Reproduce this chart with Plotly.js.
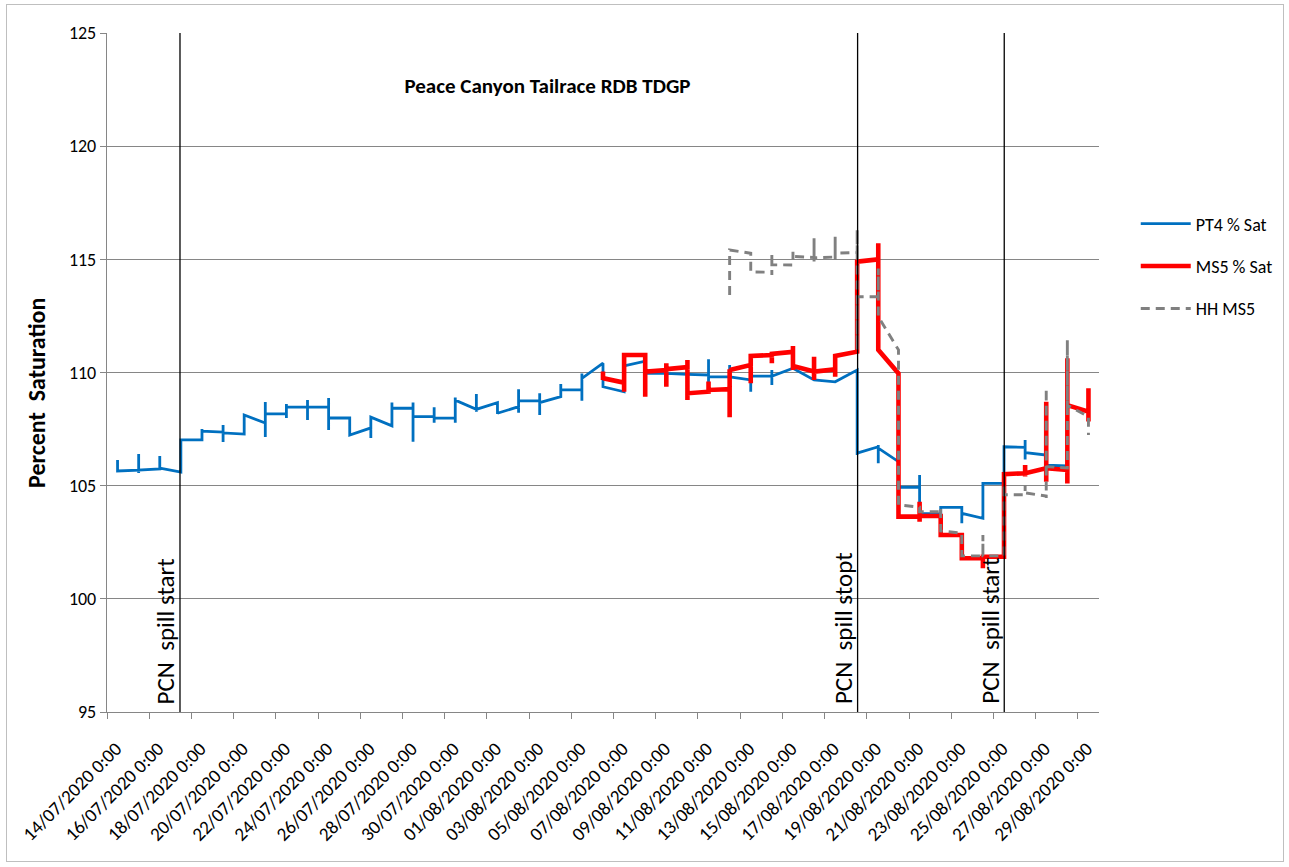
<!DOCTYPE html>
<html>
<head>
<meta charset="utf-8">
<script src="https://cdn.plot.ly/plotly-3.0.1.min.js"></script>
<style>
  html, body { margin: 0; padding: 0; background: #ffffff; }
  #frame { position: absolute; left: 6px; top: 4px; width: 1278px; height: 858px; border: 1px solid #bfbfbf; box-sizing: border-box; }
  #chart { position: absolute; left: 0; top: 0; width: 1289px; height: 867px; }
</style>
</head>
<body>
<div id="frame"></div>
<div id="chart"></div>
<script>
// Daily readings (noon) for each probe. Each entry of a *Steps list holds the
// values logged at that timestamp, in order, so a day can jump or spike
// before the line carries on to the next day.
const pt4Times = [
  '2020-07-14 12:00','2020-07-15 12:00','2020-07-16 12:00','2020-07-17 12:00','2020-07-18 12:00',
  '2020-07-19 12:00','2020-07-20 12:00','2020-07-21 12:00','2020-07-22 12:00','2020-07-23 12:00',
  '2020-07-24 12:00','2020-07-25 12:00','2020-07-26 12:00','2020-07-27 12:00','2020-07-28 12:00',
  '2020-07-29 12:00','2020-07-30 12:00','2020-07-31 12:00','2020-08-01 12:00','2020-08-02 12:00',
  '2020-08-03 12:00','2020-08-04 12:00','2020-08-05 12:00','2020-08-06 12:00','2020-08-07 12:00',
  '2020-08-08 12:00','2020-08-09 12:00','2020-08-10 12:00','2020-08-11 12:00','2020-08-12 12:00',
  '2020-08-13 12:00','2020-08-14 12:00','2020-08-15 12:00','2020-08-16 12:00','2020-08-17 12:00',
  '2020-08-18 13:00','2020-08-19 13:00','2020-08-20 12:00','2020-08-21 12:00','2020-08-22 12:00',
  '2020-08-23 12:00','2020-08-24 12:00','2020-08-25 12:00','2020-08-26 12:00','2020-08-27 12:00',
  '2020-08-28 12:00'
];
const pt4Steps = [
  [106.13, 105.65], [105.69, 106.40, 105.56, 105.69], [105.74, 106.31, 105.78], [105.60, 107.02],
  [107.02, 107.50, 107.41], [107.37, 107.68, 106.93, 107.33], [107.28, 108.12],
  [107.77, 108.70, 107.15, 108.17], [108.17, 108.61, 107.99, 108.47], [108.47, 108.78, 107.90, 108.47],
  [108.47, 108.87, 107.46, 107.99], [107.99, 107.24], [107.55, 108.03, 107.11, 108.03],
  [107.64, 108.67, 108.42], [108.42, 108.67, 106.94, 108.05], [108.05, 108.46, 107.78, 107.98],
  [107.98, 108.90, 107.78, 108.78], [108.37, 109.05, 108.27, 108.37], [108.67, 108.17, 108.20],
  [108.49, 109.26, 108.22, 108.75], [108.75, 109.08, 108.12, 108.67], [108.93, 109.49, 108.90, 109.23],
  [109.23, 109.96, 108.75, 109.74], [110.41, 109.37], [109.15, 110.29], [110.50, 109.96],
  [109.96, 110.30, 109.60, 109.96], [109.92], [109.89, 110.58, 109.52, 109.81],
  [109.81, 110.33, 109.75, 109.81], [109.67, 109.15, 109.84], [109.84, 110.11, 109.45, 109.84],
  [110.19], [109.67], [109.59], [110.11, 106.35, 106.44], [106.72, 106.80, 105.99, 106.66],
  [106.06, 104.93], [104.93, 105.47, 103.78], [103.75, 104.04], [104.04, 104.10, 103.34, 103.78],
  [103.56, 105.10], [105.10, 106.72], [106.69, 107.02, 106.16, 106.46], [106.35, 105.91], [105.87]
];

const ms5Times = [
  '2020-08-06 12:00','2020-08-07 12:00','2020-08-08 12:00','2020-08-09 12:00','2020-08-10 12:00',
  '2020-08-11 12:00','2020-08-12 12:00','2020-08-13 12:00','2020-08-14 12:00','2020-08-15 12:00',
  '2020-08-16 12:00','2020-08-17 12:00','2020-08-18 13:00','2020-08-19 13:00','2020-08-20 12:00',
  '2020-08-21 12:00','2020-08-22 12:00','2020-08-23 12:00','2020-08-24 12:00','2020-08-25 12:00',
  '2020-08-26 12:00','2020-08-27 12:00','2020-08-28 12:00','2020-08-29 12:00'
];
const ms5Steps = [
  [110.04, 109.67, 109.75], [109.55, 109.15, 110.77], [110.77, 108.93, 110.04],
  [110.11, 110.41, 109.37, 110.15], [110.24, 110.55, 108.78, 109.08], [109.15, 109.60, 109.23],
  [109.26, 108.02, 110.14, 110.11], [110.33, 110.77, 109.52, 110.73], [110.77, 110.92, 110.41, 110.82],
  [110.91, 111.17, 110.11, 110.29], [110.04, 110.70, 109.67, 110.04], [110.14, 110.73, 109.81, 110.73],
  [110.92, 114.90], [115.00, 115.71, 111.00], [109.96, 103.63], [103.63, 104.29, 103.41, 103.66],
  [103.66, 102.82], [102.82, 101.79], [101.79, 101.35, 101.86], [101.86, 105.51],
  [105.55, 105.91, 105.40, 105.55], [105.77, 108.71, 105.17, 105.77], [105.69, 105.10, 110.63, 108.56],
  [108.27, 109.30, 107.83, 108.20]
];

const hhTimes = [
  '2020-08-12 12:00','2020-08-13 12:00','2020-08-14 12:00','2020-08-15 12:00','2020-08-16 12:00',
  '2020-08-17 12:00','2020-08-18 13:00','2020-08-19 13:00','2020-08-20 12:00','2020-08-21 12:00',
  '2020-08-22 12:00','2020-08-23 12:00','2020-08-24 12:00','2020-08-25 12:00','2020-08-26 12:00',
  '2020-08-27 12:00','2020-08-28 12:00','2020-08-29 12:00'
];
const hhSteps = [
  [113.42, 115.41], [115.27, 114.46, 114.44], [114.43, 114.31, 115.19, 114.76], [114.75, 115.34, 115.13],
  [115.08, 114.90, 115.93, 115.07], [115.10, 114.97, 116.00, 115.27], [115.30, 116.30, 111.00, 113.35],
  [113.35, 114.60, 112.47], [111.00, 104.15], [104.05, 103.85], [103.85, 104.00, 103.04, 103.00],
  [102.90, 102.82, 101.94, 101.90], [101.90, 102.82, 101.90], [101.90, 105.03, 104.60],
  [104.60, 105.03, 104.60, 104.68], [104.54, 104.45, 109.31, 105.84], [105.78, 111.43, 108.56],
  [108.05, 107.24]
];

const seriesNames = ['PT4 % Sat', 'MS5 % Sat', 'HH MS5'];

// Spill events marked on the chart
const spillTimes = ['2020-07-17 11:00', '2020-08-18 13:30', '2020-08-25 12:15'];
const spillLabels = ['PCN  spill start', 'PCN  spill stopt', 'PCN  spill start'];

const FONT = 'Carlito, Calibri, Lato, "Noto Sans", sans-serif';

function buildPath(times, steps) {
  const x = [], y = [];
  times.forEach((t, i) => {
    steps[i].forEach(v => { x.push(t); y.push(v); });
  });
  return { x, y };
}

const pt4 = buildPath(pt4Times, pt4Steps);
const ms5 = buildPath(ms5Times, ms5Steps);
const hh = buildPath(hhTimes, hhSteps);

const traces = [
  { x: pt4.x, y: pt4.y, name: seriesNames[0], mode: 'lines', legendgroup: 'a',
    line: { color: '#0070C0', width: 2.8 } },
  { x: ms5.x, y: ms5.y, name: seriesNames[1], mode: 'lines', legendgroup: 'b',
    line: { color: '#FF0000', width: 4.6 } },
  { x: hh.x, y: hh.y, name: seriesNames[2], mode: 'lines', legendgroup: 'c',
    line: { color: '#808080', width: 2.9, dash: '9px,6px' } }
];

const shapes = spillTimes.map(t => ({
  type: 'line', xref: 'x', yref: 'paper', x0: t, x1: t, y0: 0, y1: 1,
  line: { color: '#000000', width: 1.3 }, layer: 'above'
}));

const annotations = spillTimes.map((t, i) => ({
  x: t, y: 95, xref: 'x', yref: 'y', text: spillLabels[i], showarrow: false,
  textangle: -90, xanchor: 'right', yanchor: 'bottom', xshift: 3, yshift: 6,
  font: { family: FONT, size: 25, color: '#000000' }
}));

// vertical axis caption
annotations.push({
  xref: 'paper', yref: 'paper', x: -0.0705, y: 0.47, showarrow: false,
  text: '<b>Percent  Saturation</b>', textangle: -90, xanchor: 'center', yanchor: 'middle',
  font: { family: FONT, size: 24, color: '#000000' }
});

const layout = {
  width: 1289, height: 867,
  margin: { l: 107, r: 189, t: 33, b: 155 },
  paper_bgcolor: 'rgba(0,0,0,0)', plot_bgcolor: '#ffffff',
  font: { family: FONT, size: 17, color: '#000000' },
  title: {
    text: '<b>Peace Canyon Tailrace RDB TDGP</b>',
    xref: 'paper', yref: 'paper', x: 0.444, y: 0.922, xanchor: 'center', yanchor: 'middle',
    font: { family: FONT, size: 21, color: '#000000' }
  },
  xaxis: {
    type: 'date',
    range: ['2020-07-14 00:00', '2020-08-30 00:00'],
    tick0: '2020-07-14', dtick: 2 * 86400000,
    tickformat: '%d/%m/%Y %-H:%M',
    tickangle: -45,
    showgrid: false, zeroline: false,
    showline: true, linecolor: '#868686', linewidth: 1.3,
    ticks: 'outside', ticklen: 6, tickcolor: '#868686', tickwidth: 1.3,
    ticklabelstandoff: 11, ticklabelshift: 9,
    tickfont: { family: FONT, size: 19, color: '#000000' }
  },
  yaxis: {
    range: [95, 125], dtick: 5, tick0: 95,
    showgrid: true, gridcolor: '#868686', gridwidth: 1.3, zeroline: false,
    showline: true, linecolor: '#868686', linewidth: 1.3,
    ticks: 'outside', ticklen: 6, tickcolor: '#868686', tickwidth: 1.3,
    tickfont: { family: FONT, size: 18, color: '#000000' }
  },
  showlegend: true,
  legend: {
    x: 1.036, y: 0.746, xanchor: 'left', yanchor: 'top',
    traceorder: 'grouped', tracegroupgap: 16, itemwidth: 50,
    font: { family: FONT, size: 18, color: '#000000' },
    bgcolor: 'rgba(0,0,0,0)'
  },
  shapes: shapes,
  annotations: annotations
};

Plotly.newPlot('chart', traces, layout, { displayModeBar: false, responsive: false });
</script>
</body>
</html>
